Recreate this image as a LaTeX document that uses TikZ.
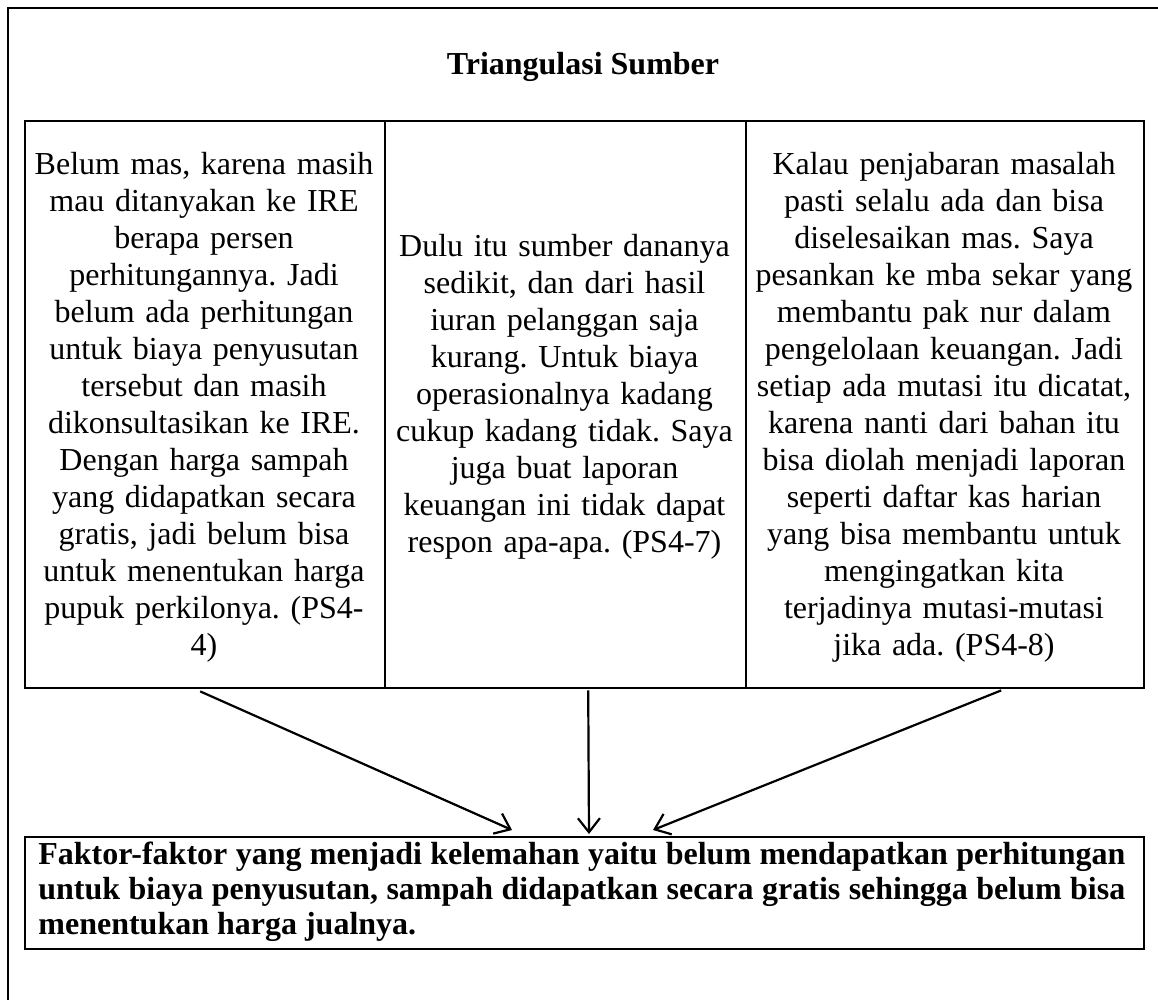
\documentclass[tikz,border=0pt]{standalone}
\usepackage{fontspec}
\setmainfont{Liberation Serif}
\usetikzlibrary{arrows.meta,calc}
\frenchspacing
\begin{document}
\begin{tikzpicture}[x=0.5pt,y=-0.5pt,
  frame/.style={line width=1.2pt},
  cellbox/.style={draw, line width=1.2pt, inner sep=0pt, anchor=north west, minimum height=283.5pt},
  coltext/.style={align=center, inner sep=0pt, anchor=base, font=\fontsize{16}{18.5}\selectfont},
  conn/.style={line width=1.1pt, -{Straight Barb[length=7pt,width=11pt,line width=1.1pt]}}]
\useasboundingbox (0,0) rectangle (1158,1000);
\clip (0,0) rectangle (1158,1000);
\draw[frame] (1170,8) -- (8,8) -- (8,1010);
\node[font=\bfseries\fontsize{16}{18.5}\selectfont, anchor=base, inner sep=0pt] (title) at (583,75) {Triangulasi Sumber};
\node[cellbox, minimum width=180pt] (c1) at (24,120) {};
\node[cellbox, minimum width=180.5pt] (c2) at (384,120) {};
\node[cellbox, minimum width=199pt] (c3) at (745,120) {};
\node[coltext, text width=178pt] (t1) at (204,175) {Belum mas, karena masih\\ mau ditanyakan ke IRE\\ berapa persen\\ perhitungannya. Jadi\\ belum ada perhitungan\\ untuk biaya penyusutan\\ tersebut dan masih\\ dikonsultasikan ke IRE.\\ Dengan harga sampah\\ yang didapatkan secara\\ gratis, jadi belum bisa\\ untuk menentukan harga\\ pupuk perkilonya. (PS4-\\ 4)};
\node[coltext, text width=178pt] (t2) at (564.5,257) {Dulu itu sumber dananya\\ sedikit, dan dari hasil\\ iuran pelanggan saja\\ kurang. Untuk biaya\\ operasionalnya kadang\\ cukup kadang tidak. Saya\\ juga buat laporan\\ keuangan ini tidak dapat\\ respon apa-apa. (PS4-7)};
\node[coltext, text width=196pt] (t3) at (944,175) {Kalau penjabaran masalah\\ pasti selalu ada dan bisa\\ diselesaikan mas. Saya\\ pesankan ke mba sekar yang\\ membantu pak nur dalam\\ pengelolaan keuangan. Jadi\\ setiap ada mutasi itu dicatat,\\ karena nanti dari bahan itu\\ bisa diolah menjadi laporan\\ seperti daftar kas harian\\ yang bisa membantu untuk\\ mengingatkan kita\\ terjadinya mutasi-mutasi\\ jika ada. (PS4-8)};
\node[draw, line width=1.2pt, inner sep=0pt, anchor=north west, minimum width=559.5pt, minimum height=56pt] (fb) at (24,836) {};
\node[align=justify, text width=543.5pt, inner sep=0pt, anchor=base west, font=\bfseries\fontsize{16}{17.5}\selectfont] (ft) at (38,864) {Faktor-faktor yang menjadi kelemahan yaitu belum mendapatkan perhitungan\linebreak untuk biaya penyusutan, sampah didapatkan secara gratis sehingga belum bisa\linebreak menentukan harga jualnya.};
\coordinate (a1s) at ($(c1.south)+(-5,2)$);
\coordinate (a2s) at ($(c2.south)+(22.5,1)$);
\coordinate (a3s) at ($(c3.south)+(56,1)$);
\coordinate (a1e) at ($(fb.north west)+(488,-6)$);
\coordinate (a2e) at ($(fb.north west)+(565,-2)$);
\coordinate (a3e) at ($(fb.north west)+(629,-6)$);
\draw[conn] (a1s) -- (a1e);
\draw[conn] (a2s) -- (a2e);
\draw[conn] (a3s) -- (a3e);
\end{tikzpicture}
\end{document}
